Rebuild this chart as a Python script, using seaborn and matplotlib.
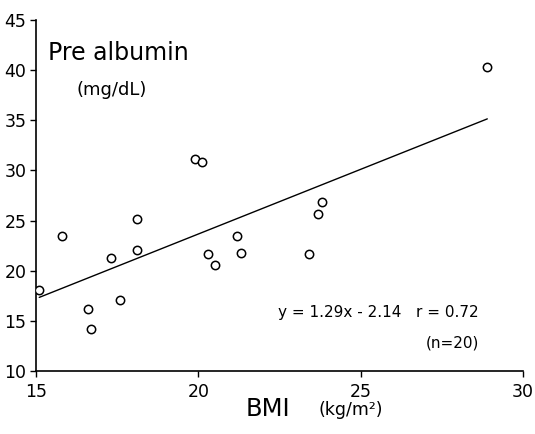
import matplotlib
matplotlib.use("Agg")
import matplotlib.pyplot as plt
import numpy as np
import pandas as pd
import seaborn as sns

# BMI (kg/m^2) and pre-albumin (mg/dL) per patient
bmi = [15.1, 15.8, 16.6, 16.7, 17.3, 17.6, 18.1, 18.1, 19.9, 20.1,
       20.3, 20.5, 21.2, 21.3, 23.4, 23.7, 23.8, 28.9]
prealbumin = [18.1, 23.5, 16.2, 14.2, 21.3, 17.1, 25.2, 22.1, 31.1, 30.8,
              21.7, 20.6, 23.5, 21.8, 21.7, 25.7, 26.9, 40.3]

# Regression fit
slope = 1.29
intercept = -2.14
r_value = 0.72
n_value = 20
fit_x = [15.1, 28.9]

x_ticks = [15, 20, 25, 30]
y_ticks = [10, 15, 20, 25, 30, 35, 40, 45]

sns.set_theme(style="ticks")
plt.rcParams["font.family"] = ["DejaVu Sans"]

df = pd.DataFrame({"BMI": bmi, "PreAlbumin": prealbumin})
fit = pd.DataFrame({"BMI": fit_x,
                    "PreAlbumin": [slope * v + intercept for v in fit_x]})

fig = plt.figure(figsize=(5.35, 4.34), dpi=100)
ax = fig.add_axes([0.0673, 0.1452, 0.9103, 0.8087])

sns.lineplot(data=fit, x="BMI", y="PreAlbumin", ax=ax, color="black",
             linewidth=1.0)
sns.scatterplot(data=df, x="BMI", y="PreAlbumin", ax=ax, marker="o", s=36,
                facecolor="white", edgecolor="black", linewidth=1.1, zorder=3)

ax.set_xlim(15, 30)
ax.set_ylim(10, 45)
ax.set_xticks(x_ticks)
ax.set_yticks(y_ticks)
ax.tick_params(axis="both", labelsize=12.5, length=4, width=1, color="black",
               labelcolor="black")
ax.tick_params(axis="x", pad=5)
ax.tick_params(axis="y", pad=3)
for side in ("top", "right"):
    ax.spines[side].set_visible(False)
for side in ("left", "bottom"):
    ax.spines[side].set_color("black")
    ax.spines[side].set_linewidth(1.2)
ax.set_xlabel("")
ax.set_ylabel("")

ax.text(0.025, 0.905, "Pre albumin", transform=ax.transAxes, fontsize=17,
        ha="left", va="center", color="black")
ax.text(0.083, 0.800, "(mg/dL)", transform=ax.transAxes, fontsize=13,
        ha="left", va="center", color="black")
ax.text(0.909, 0.166,
        f"y = {slope:.2f}x - {abs(intercept):.2f}   r = {r_value:.2f}",
        transform=ax.transAxes, fontsize=11, ha="right", va="center",
        color="black")
ax.text(0.909, 0.080, f"(n={n_value})", transform=ax.transAxes, fontsize=11,
        ha="right", va="center", color="black")

fig.text(0.460, 0.058, "BMI", fontsize=17.5, ha="left", va="center",
         color="black")
fig.text(0.596, 0.056, "(kg/m\u00b2)", fontsize=12.5, ha="left", va="center",
         color="black")

fig.savefig("out.png", dpi=100, facecolor="white")
